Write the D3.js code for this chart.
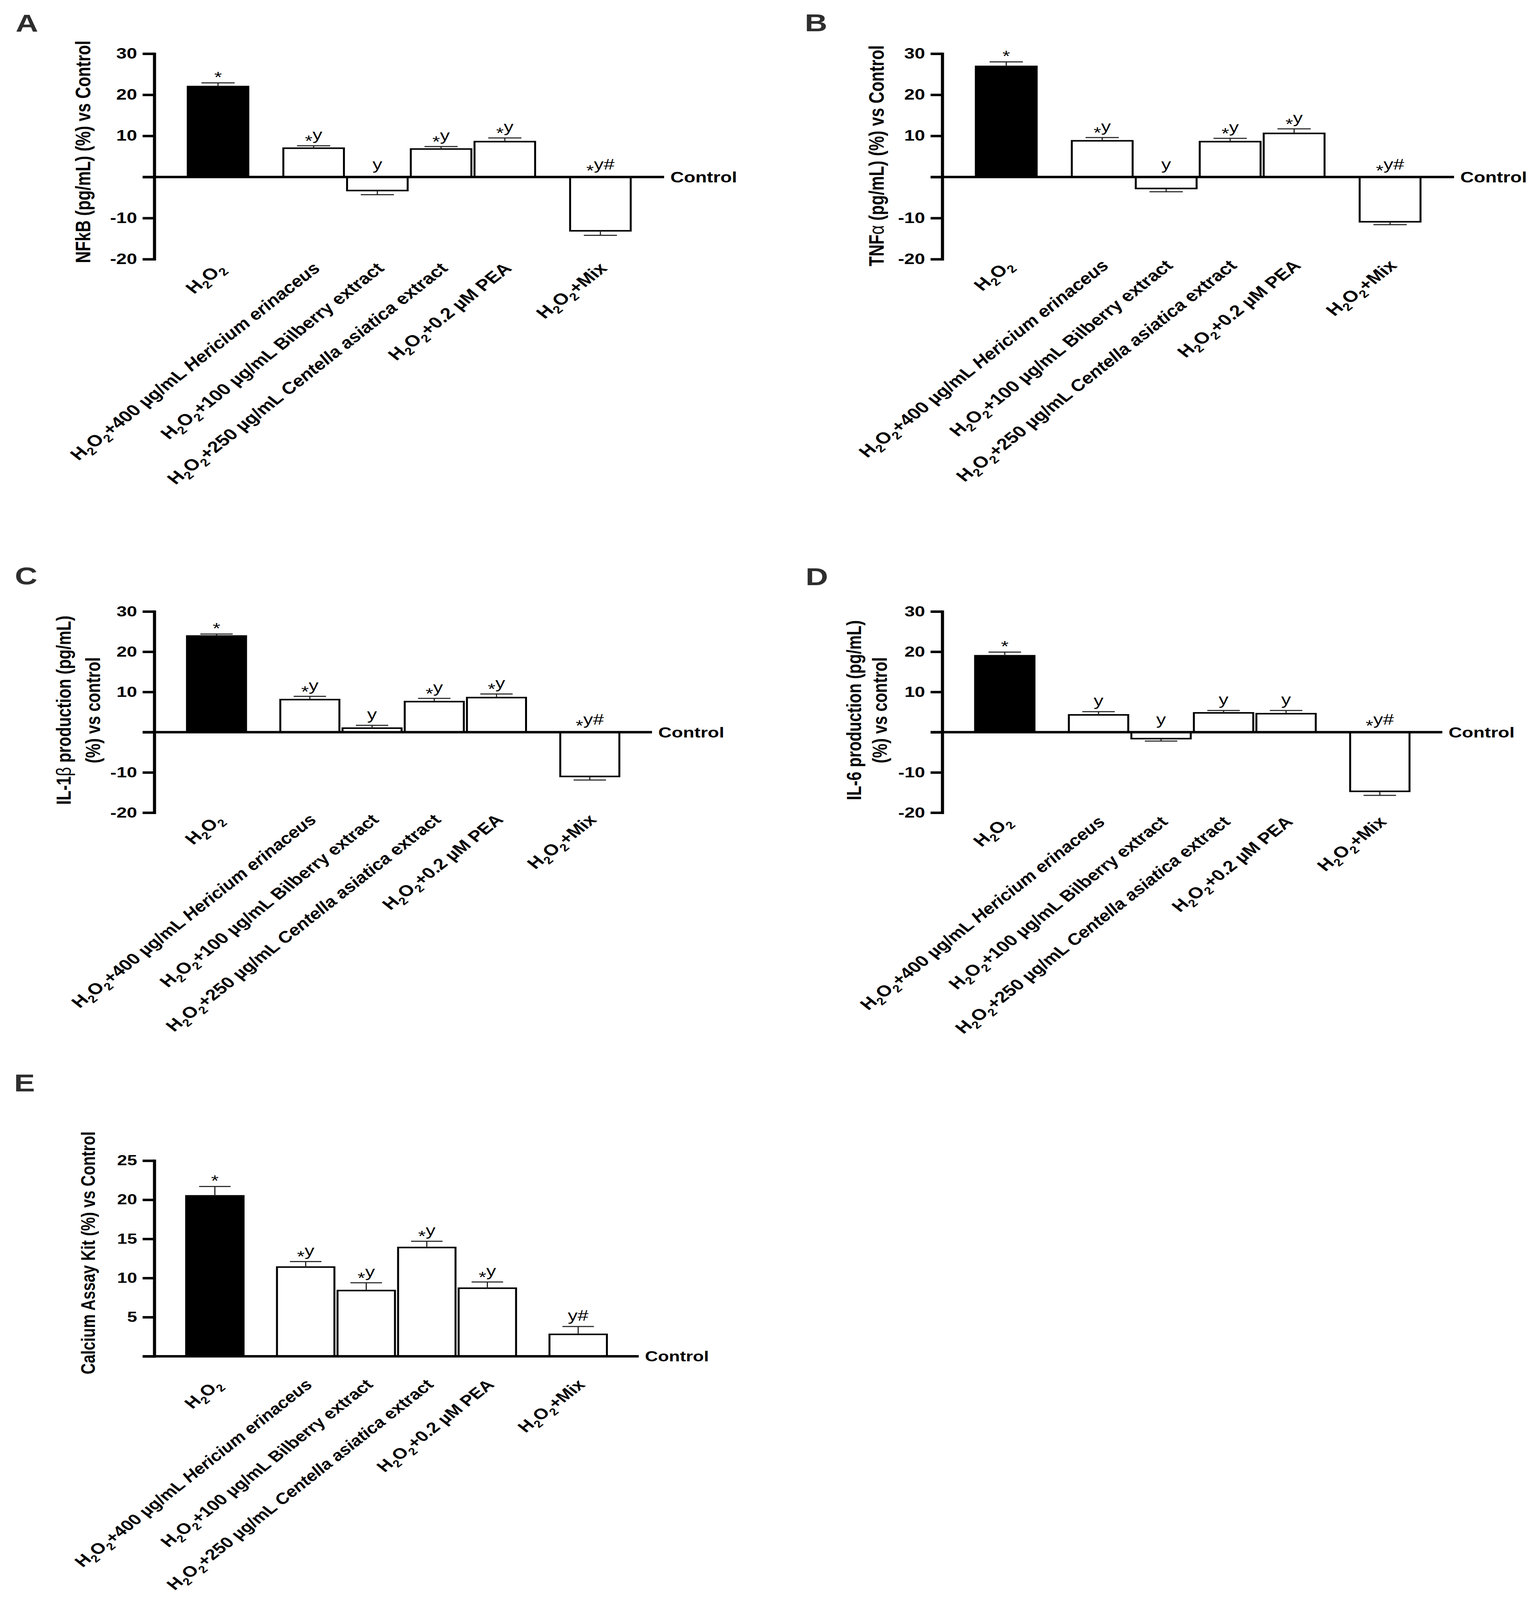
<!DOCTYPE html>
<html>
<head>
<meta charset="utf-8">
<script src="https://cdn.jsdelivr.net/npm/d3@7/dist/d3.min.js"></script>
<style>
  html, body { margin: 0; padding: 0; background: #ffffff; overflow: hidden; }
  svg { display: block; width: 100vw; height: 100vh; }
</style>
</head>
<body>
<svg id="chart" viewBox="0 0 3942 5186" preserveAspectRatio="none"></svg>
<script>
// ---------------- DATA ----------------
const categories = [
  "H_2O_2",
  "H_2O_2+400 µg/mL <i>Hericium erinaceus</i>",
  "H_2O_2+100 µg/mL Bilberry extract",
  "H_2O_2+250 µg/mL <i>Centella asiatica</i> extract",
  "H_2O_2+0.2 µM PEA",
  "H_2O_2+Mix"
];
const categoryGroup = [0, 1, 1, 1, 1, 2];   // H2O2 | treatments | Mix

const nfkbMean  = [22.0, 7.0, -3.3, 6.8, 8.6, -13.1];
const nfkbSem   = [0.9, 0.6, 1.0, 0.6, 0.9, 1.1];
const nfkbMarks = ["*", "*y", "y", "*y", "*y", "*y#"];

const tnfMean  = [26.9, 8.8, -2.8, 8.6, 10.6, -10.9];
const tnfSem   = [1.1, 0.8, 0.8, 0.8, 1.1, 0.7];
const tnfMarks = ["*", "*y", "y", "*y", "*y", "*y#"];

const il1Mean  = [23.9, 8.1, 1.0, 7.6, 8.6, -11.0];
const il1Sem   = [0.5, 0.8, 0.7, 0.8, 0.9, 0.9];
const il1Marks = ["*", "*y", "y", "*y", "*y", "*y#"];

const il6Mean  = [19.0, 4.3, -1.6, 4.8, 4.6, -14.7];
const il6Sem   = [0.9, 0.8, 0.6, 0.6, 0.8, 1.0];
const il6Marks = ["*", "y", "y", "y", "y", "*y#"];

const caMean  = [20.5, 11.4, 8.4, 13.9, 8.7, 2.8];
const caSem   = [1.2, 0.7, 1.0, 0.8, 0.8, 1.0];
const caMarks = ["*", "*y", "*y", "*y", "*y", "y#"];

const ticksCytokine = [30, 20, 10, 0, -10, -20];
const ticksCalcium  = [25, 20, 15, 10, 5, 0];

const titleA = ["NFkB (pg/mL) (%) vs Control"];
const titleB = ["TNF<n>α</n> (pg/mL) (%) vs Control"];
const titleC = ["IL-1<n>β</n> production (pg/mL)", "(%) vs control"];
const titleD = ["IL-6 production (pg/mL)", "(%) vs control"];
const titleE = ["Calcium Assay Kit (%) vs Control"];
const controlLabel = "Control";

// ---------------- LAYOUT ----------------
const panels = [
  {letter:"A", mean:nfkbMean, sem:nfkbSem, marks:nfkbMarks, ticks:ticksCytokine, domain:[-20,30], title:titleA,
   lx:40, ly:102, axisX:395, yTop:174, yBot:840, lineEnd:1700, titleX:[212], titleY:492, labelDy:33,
   labelFs:51, axisFs:48, titleFs:53},
  {letter:"B", mean:tnfMean, sem:tnfSem, marks:tnfMarks, ticks:ticksCytokine, domain:[-20,30], title:titleB,
   lx:2060, ly:101, axisX:2412, yTop:174, yBot:840, lineEnd:3722, titleX:[2243], titleY:505, labelDy:24,
   labelFs:51, axisFs:48, titleFs:53},
  {letter:"C", mean:il1Mean, sem:il1Sem, marks:il1Marks, ticks:ticksCytokine, domain:[-20,30], title:titleC,
   lx:38, ly:1894, axisX:395, yTop:1982, yBot:2634, lineEnd:1669, titleX:[163,238], titleY:2302, labelDy:26,
   labelFs:50, axisFs:47.5, titleFs:52},
  {letter:"D", mean:il6Mean, sem:il6Sem, marks:il6Marks, ticks:ticksCytokine, domain:[-20,30], title:titleD,
   lx:2062, ly:1897, axisX:2412, yTop:1982, yBot:2634, lineEnd:3692, titleX:[2186,2252], titleY:2302, labelDy:33,
   labelFs:50, axisFs:47.5, titleFs:52},
  {letter:"E", mean:caMean, sem:caSem, marks:caMarks, ticks:ticksCalcium, domain:[0,25], title:titleE,
   lx:36, ly:3537, axisX:395, yTop:3762, yBot:4396, lineEnd:1635, titleX:[226], titleY:4061, labelDy:95,
   labelFs:48.5, axisFs:46, titleFs:50}
];

const FONT = "'Liberation Sans', Arial, Helvetica, sans-serif";
const svg = d3.select("#chart");
svg.append("rect").attr("width", 3942).attr("height", 5186).attr("fill", "#fff");

// parse "H_2O_2+... <i>italic</i> <n>normal</n>" into segments
function parseRich(str) {
  const out = [];
  let buf = "", italic = false, normal = false, i = 0;
  const flush = () => { if (buf) { out.push({t: buf, sub: false, italic, normal}); buf = ""; } };
  while (i < str.length) {
    if (str.startsWith("<i>", i)) { flush(); italic = true; i += 3; }
    else if (str.startsWith("</i>", i)) { flush(); italic = false; i += 4; }
    else if (str.startsWith("<n>", i)) { flush(); normal = true; i += 3; }
    else if (str.startsWith("</n>", i)) { flush(); normal = false; i += 4; }
    else if (str[i] === "_") { flush(); out.push({t: str[i + 1], sub: true, italic, normal}); i += 2; }
    else { buf += str[i]; i++; }
  }
  flush();
  return out;
}

function richText(sel, str, fs) {
  const segs = parseRich(str);
  const shift = Math.round(fs * 0.26);
  let cur = 0;
  segs.forEach(s => {
    const ts = sel.append("tspan").text(s.t);
    const target = s.sub ? shift : 0;
    if (target !== cur) { ts.attr("dy", target - cur); cur = target; }
    if (s.sub) ts.attr("font-size", Math.round(fs * 0.68));
    if (s.italic) ts.attr("font-style", "italic");
    if (s.normal) ts.attr("font-weight", "normal");
  });
}

panels.forEach(p => {
  const g = svg.append("g");
  const y = d3.scaleLinear().domain(p.domain).range([p.yBot, p.yTop]);
  const x = d3.scaleLinear().domain([-1, 7]).range([p.axisX, p.lineEnd]);
  const step = x(1) - x(0);
  const y0 = y(0);
  const rows = categories.map((c, i) => ({
    label: c, mean: p.mean[i], sem: p.sem[i], mark: p.marks[i],
    cx: x(i + 0.5 * categoryGroup[i]), idx: i
  }));

  // panel letter
  g.append("text").attr("x", p.lx).attr("y", p.ly)
    .attr("font-family", FONT).attr("font-weight", "bold").attr("font-size", 80)
    .attr("fill", "#2e2e2e").text(p.letter);

  // bars
  const bw = step - 8;
  g.selectAll("rect.bar").data(rows).enter().append("rect")
    .attr("class", "bar")
    .attr("x", d => d.cx - bw / 2)
    .attr("width", bw)
    .attr("y", d => Math.min(y(d.mean), y0))
    .attr("height", d => Math.abs(y(d.mean) - y0))
    .attr("fill", d => d.idx === 0 ? "#000" : "#fff")
    .attr("stroke", "#000").attr("stroke-width", 5);

  // error bars (one-sided, away from zero)
  const errEnd = d => y(d.mean + Math.sign(d.mean) * d.sem);
  g.selectAll("line.err").data(rows).enter().append("line")
    .attr("x1", d => d.cx).attr("x2", d => d.cx)
    .attr("y1", d => y(d.mean)).attr("y2", errEnd)
    .attr("stroke", "#222").attr("stroke-width", 3);
  g.selectAll("line.cap").data(rows).enter().append("line")
    .attr("x1", d => d.cx - step * 0.26).attr("x2", d => d.cx + step * 0.26)
    .attr("y1", errEnd).attr("y2", errEnd)
    .attr("stroke", "#222").attr("stroke-width", 3.5);

  // significance marks
  const AF = 50;
  rows.forEach(d => {
    const t = g.append("text").attr("x", d.cx).attr("text-anchor", "middle")
      .attr("font-family", FONT).attr("font-size", AF).attr("fill", "#000");
    if (d.mark === "*") {
      t.attr("y", errEnd(d) - 2).text("*");
    } else {
      const base = d.mean > 0 ? errEnd(d) - 19 : y0 - 24;
      t.attr("y", base);
      if (d.mark[0] === "*") {
        t.append("tspan").attr("dy", 20).text("*");
        t.append("tspan").attr("dy", -20).text(d.mark.slice(1));
      } else {
        t.text(d.mark);
      }
    }
  });

  // control (zero) line
  g.append("line").attr("x1", p.axisX - 30).attr("x2", p.lineEnd)
    .attr("y1", y0).attr("y2", y0)
    .attr("stroke", "#000").attr("stroke-width", 8);
  g.append("text").attr("x", p.lineEnd + 16).attr("y", y0).attr("dy", "0.36em")
    .attr("font-family", FONT).attr("font-weight", "bold").attr("font-size", p.axisFs)
    .text(controlLabel);

  // y axis
  const axis = d3.axisLeft(y).tickValues(p.ticks).tickSize(30).tickSizeOuter(0).tickPadding(14)
    .tickFormat(v => v === 0 ? "" : String(v));
  const ag = g.append("g").attr("transform", `translate(${p.axisX},0)`).call(axis);
  ag.select(".domain").attr("stroke-width", 8).attr("stroke-linecap", "square");
  ag.selectAll(".tick line").attr("stroke-width", 8);
  ag.selectAll(".tick text").attr("font-family", FONT).attr("font-weight", "bold")
    .attr("font-size", p.axisFs).attr("fill", "#000");

  // x category labels (rotated)
  const LF = p.labelFs;
  rows.forEach(d => {
    const ax = d.cx + 20, ay = p.yBot + p.labelDy;
    const t = g.append("text").attr("x", ax).attr("y", ay)
      .attr("transform", `rotate(-45,${ax},${ay})`)
      .attr("text-anchor", "end")
      .attr("font-family", FONT).attr("font-weight", "bold").attr("font-size", LF)
      .attr("fill", "#000");
    richText(t, d.label, LF);
  });

  // y title
  p.title.forEach((line, li) => {
    const tx = p.titleX[li], ty = p.titleY;
    const t = g.append("text").attr("x", tx).attr("y", ty).attr("dy", "0.35em")
      .attr("transform", `rotate(-90,${tx},${ty})`)
      .attr("text-anchor", "middle")
      .attr("font-family", FONT).attr("font-weight", "bold").attr("font-size", p.titleFs)
      .attr("fill", "#000");
    richText(t, line, p.titleFs);
  });
});
</script>
</body>
</html>
